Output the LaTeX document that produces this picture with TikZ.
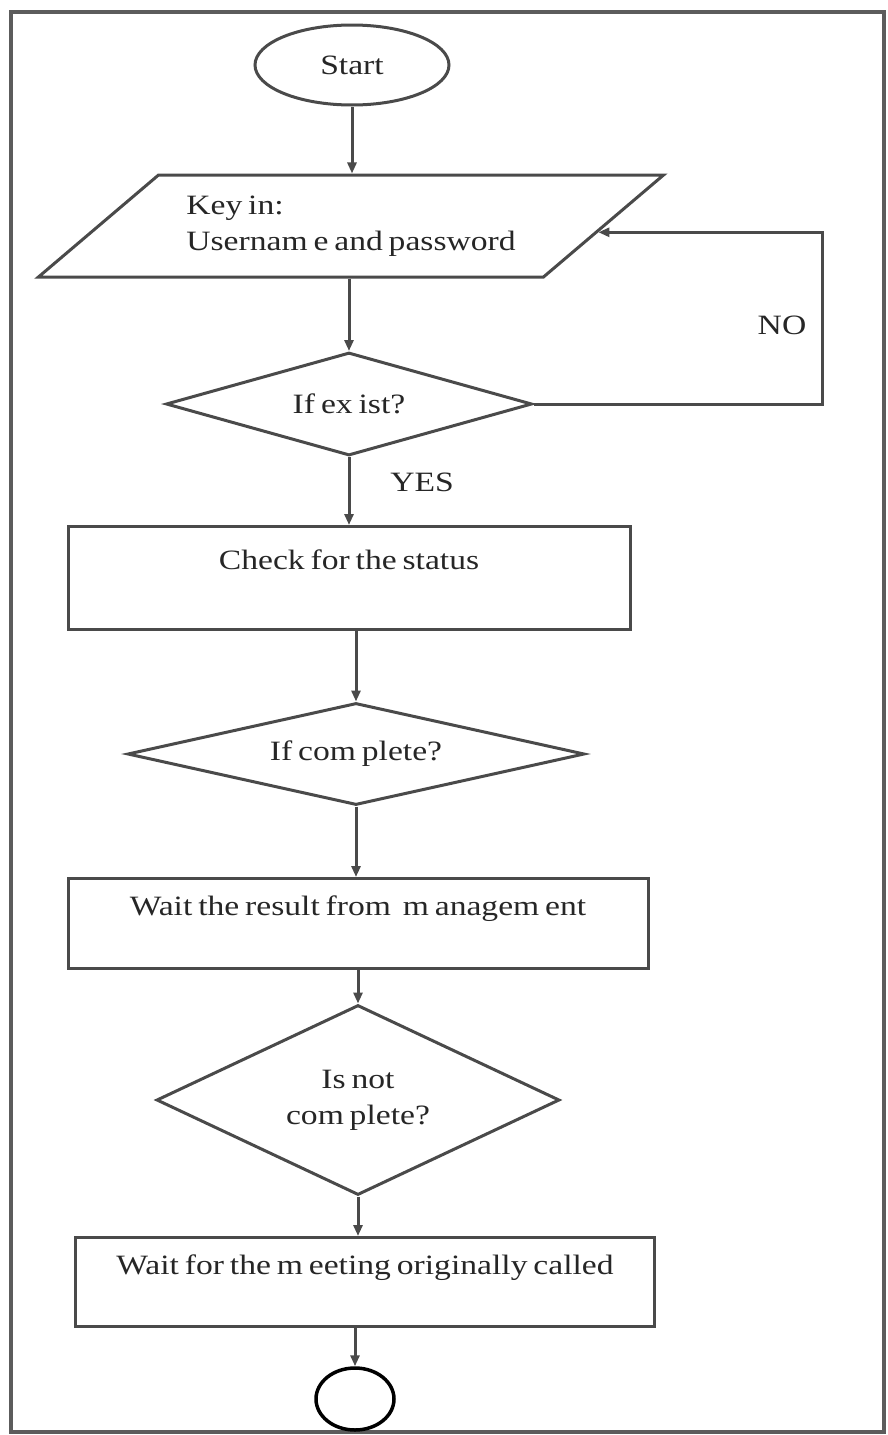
\documentclass[tikz,border=0pt]{standalone}
\usepackage{fontspec}
\setmainfont{Liberation Serif}[FakeStretch=1.2, WordSpace=0.7]
\usetikzlibrary{shapes.geometric,arrows.meta,calc}
\definecolor{linegray}{HTML}{4A4A4A}
\definecolor{framegray}{HTML}{5C5C5C}
\definecolor{inkdark}{HTML}{262626}

\begin{document}
\begin{tikzpicture}[x=1pt,y=-1pt,
  every node/.style={font=\fontsize{28}{36}\selectfont, text=inkdark},
  shapeline/.style={draw=linegray, line width=3pt},
  terminal/.style={shapeline, ellipse, inner sep=0pt},
  iobox/.style={shapeline, trapezium, trapezium left angle=30.5, trapezium right angle=149.5,
                trapezium stretches=true, inner sep=0pt, align=left},
  decision/.style={shapeline, diamond, inner sep=0pt, align=center},
  procbox/.style={shapeline, rectangle, inner sep=0pt, anchor=north},
  flow/.style={draw=linegray, line width=3pt, -{Triangle[length=11pt,width=9pt]}},
  tag/.style={inner sep=0pt}]

% page and outer frame
\useasboundingbox (0,0) rectangle (888,1435);
\fill[white] (0,0) rectangle (888,1435);
\draw[framegray, line width=4pt] (11,12) rectangle (884,1432);

% flowchart nodes
\node[terminal, minimum width=194pt, minimum height=80pt] (start) at (352,65) {Start};
\node[iobox, minimum width=628pt, minimum height=102pt] (key) at (351,226)
  {Key in:\\Usernam e and password};
\node[decision, aspect=3.55, minimum width=366pt, minimum height=103pt] (exist) at (349,404) {If ex ist?};
\node[procbox, minimum width=562pt, text height=43pt, text depth=60pt] (check) at (349,525)
  {Check for the status};
\node[decision, aspect=4.5, minimum width=457pt, minimum height=102pt] (complete) at (356,754) {If com plete?};
\node[procbox, minimum width=580pt, text height=37pt, text depth=53pt] (result) at (358,877)
  {Wait the result from \ m anagem ent};
\node[decision, aspect=2.12, minimum width=403pt, minimum height=190pt] (notcomplete) at (358,1100)
  {Is not\\com plete?};
\node[procbox, minimum width=579pt, text height=37pt, text depth=52pt] (meeting) at (365,1236)
  {Wait for the m eeting originally called};
\node[ellipse, draw=black, line width=3.5pt, inner sep=0pt, minimum width=78pt, minimum height=62pt]
  (stop) at (355,1399) {};

% branch labels
\node[tag] (yes) at (422,482) {YES};
\node[tag] (no) at (782,325) {NO};

% connectors
\draw[flow] (start.south) -- (start.south |- key.north);
\draw[flow] (key.south -| exist.north) -- (exist.north);
\draw[flow] (exist.south) -- (exist.south |- check.north);
\draw[flow] (complete.north |- check.south) -- (complete.north);
\draw[flow] (complete.south) -- (complete.south |- result.north);
\draw[flow] (notcomplete.north |- result.south) -- (notcomplete.north);
\draw[flow] (notcomplete.south) -- (notcomplete.south |- meeting.north);
\draw[flow] (stop.north |- meeting.south) -- (stop.north);

% NO loop back to the input step
\coordinate (noin) at ($(key.top right corner)!0.56!(key.bottom right corner)$);
\coordinate (noright) at (822,0);
\draw[flow] (exist.east) -| (noright |- noin) -- (noin);
\end{tikzpicture}
\end{document}
